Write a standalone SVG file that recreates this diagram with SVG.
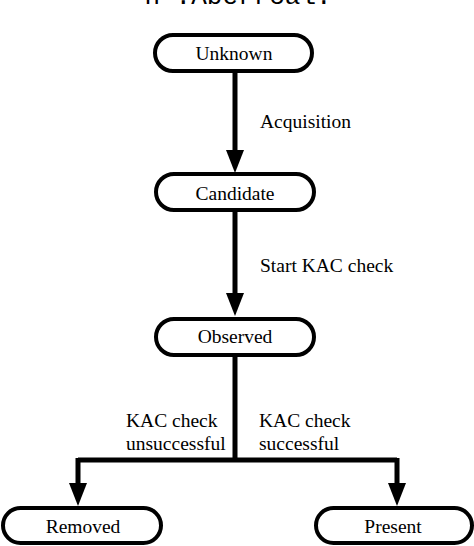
<svg xmlns="http://www.w3.org/2000/svg" width="474" height="546" viewBox="0 0 474 546">
<defs>
<style>
.node rect{fill:#fff;stroke:#000;stroke-width:4}
.node text,.lbl{font-family:"Liberation Serif","Times New Roman",serif;font-size:19.5px;fill:#000}
.node text{text-anchor:middle}
.edge{stroke:#000;stroke-width:5;fill:none}
.head{fill:#000}
</style>
</defs>
<rect width="474" height="546" fill="#fff"/>
<text x="238" y="4" font-family="'Liberation Mono','Courier New',monospace" font-size="26" text-anchor="middle" fill="#000">n .Aberrcal.</text>
<g id="connectors">
<line class="edge" x1="235" y1="72" x2="235" y2="152"/>
<polygon class="head" points="226,150 244,150 235,173"/>
<line class="edge" x1="235" y1="210" x2="235" y2="295"/>
<polygon class="head" points="226,293 244,293 235,316"/>
<path class="edge" d="M235,355 V460 M78,460 H397 M78,458 V485 M397,458 V485"/>
<polygon class="head" points="69,483 87,483 78,506"/>
<polygon class="head" points="388,483 406,483 397,506"/>
</g>
<text class="lbl" x="260" y="128">Acquisition</text>
<text class="lbl" x="260" y="272">Start KAC check</text>
<text class="lbl" x="126" y="427">KAC check</text>
<text class="lbl" x="126" y="450">unsuccessful</text>
<text class="lbl" x="259" y="427">KAC check</text>
<text class="lbl" x="259" y="450">successful</text>
<g id="unknown" class="node"><rect x="155" y="35" width="157" height="36" rx="18"/><text x="234" y="60">Unknown</text></g>
<g id="candidate" class="node"><rect x="156" y="174" width="158" height="36" rx="18"/><text x="235" y="200">Candidate</text></g>
<g id="observed" class="node"><rect x="156" y="319" width="158" height="36" rx="18"/><text x="235" y="343">Observed</text></g>
<g id="removed" class="node"><rect x="3" y="508" width="158" height="35" rx="17.5"/><text x="83" y="533">Removed</text></g>
<g id="present" class="node"><rect x="316" y="508" width="156" height="35" rx="17.5"/><text x="393" y="533">Present</text></g>
</svg>
